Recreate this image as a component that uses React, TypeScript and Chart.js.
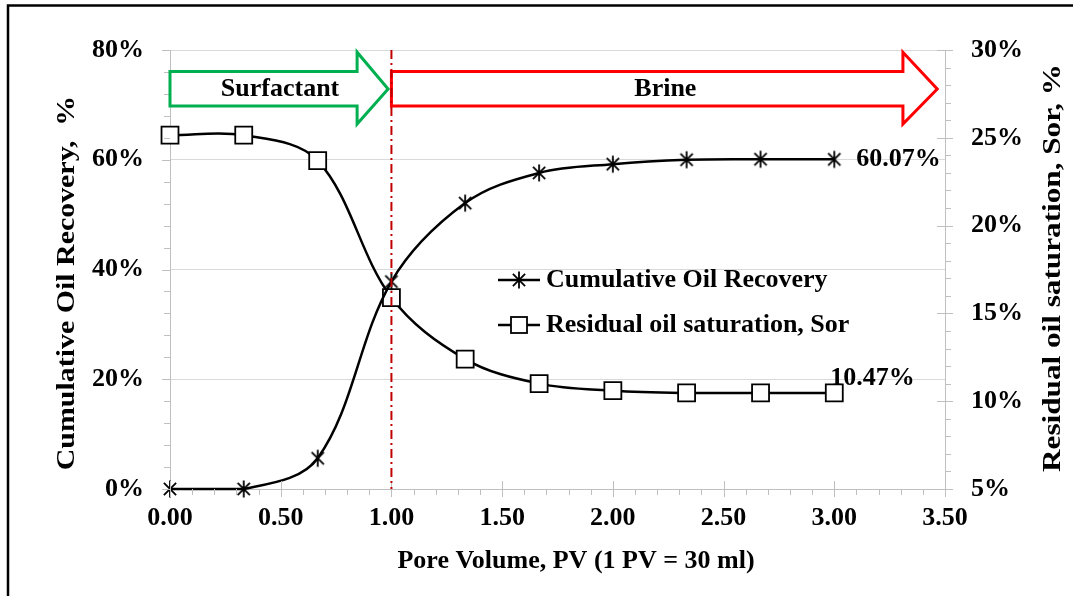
import { useEffect, useRef } from "react";
import { Chart, registerables } from "chart.js";

Chart.register(...registerables);

const PV = [0, 0.333, 0.667, 1.0, 1.333, 1.667, 2.0, 2.333, 2.667, 3.0];
const RECOVERY = [0, 0, 5.6, 37.8, 52.1, 57.6, 59.2, 60.0, 60.1, 60.07];
const SOR = [25.15, 25.15, 23.7, 15.9, 12.4, 11.0, 10.6, 10.47, 10.47, 10.47];
const SERIES_NAMES = ["Cumulative Oil Recovery", "Residual oil saturation, Sor"];
const END_LABELS = ["60.07%", "10.47%"];
const PHASES = ["Surfactant", "Brine"];
const X_TITLE = "Pore Volume, PV (1 PV = 30 ml)";
const Y_TITLE = "Cumulative Oil Recovery,  %";
const Y1_TITLE = "Residual oil saturation, Sor, %";

const FAMILY = '"Liberation Serif", "Times New Roman", serif';
const TICK_SIZE = 26;
const TEXT_SIZE = 26;

function makeStar(): HTMLCanvasElement {
  const c = document.createElement("canvas");
  c.width = 20;
  c.height = 20;
  const g = c.getContext("2d")!;
  g.strokeStyle = "#000";
  g.lineWidth = 1.8;
  const m = 10;
  const r = 8.5;
  const d = r * 0.72;
  g.beginPath();
  g.moveTo(m, m - r);
  g.lineTo(m, m + r);
  g.moveTo(m - d, m - d);
  g.lineTo(m + d, m + d);
  g.moveTo(m + d, m - d);
  g.lineTo(m - d, m + d);
  g.stroke();
  return c;
}

export default function App() {
  const ref = useRef<HTMLCanvasElement>(null);

  useEffect(() => {
    if (!ref.current) return;
    const star = makeStar();

    const annot = {
      id: "annot",
      afterDraw(chart: any) {
        const ctx = chart.ctx as CanvasRenderingContext2D;
        const { left, right, top, bottom } = chart.chartArea;
        const xs = chart.scales.x;
        const ys = chart.scales.y;
        const y1s = chart.scales.y1;
        ctx.save();

        // tick marks
        ctx.strokeStyle = "#BFBFBF";
        ctx.lineWidth = 1;
        ctx.beginPath();
        for (let v = 0; v <= 80; v += 4) {
          const p = Math.round(ys.getPixelForValue(v)) + 0.5;
          const major = v % 20 === 0;
          ctx.moveTo(left - (major ? 8 : 6), p);
          ctx.lineTo(left, p);
        }
        for (let v = 5; v <= 30; v += 1) {
          const p = Math.round(y1s.getPixelForValue(v)) + 0.5;
          const major = v % 5 === 0;
          ctx.moveTo(right - (major ? 8 : 0), p);
          ctx.lineTo(right + (major ? 8 : 6), p);
        }
        for (let i = 0; i <= 35; i++) {
          const p = Math.round(xs.getPixelForValue(i / 10)) + 0.5;
          const major = i % 5 === 0;
          ctx.moveTo(p, bottom - (major ? 8 : 0));
          ctx.lineTo(p, bottom + (major ? 8 : 6));
        }
        ctx.stroke();

        // arrows
        const arrow = (
          x0: number, xh: number, xt: number, color: string, label: string
        ) => {
          const L = xs.getPixelForValue(x0);
          const H = xs.getPixelForValue(xh);
          const T = xs.getPixelForValue(xt);
          const yT = ys.getPixelForValue(76.1);
          const yB = ys.getPixelForValue(69.8);
          const hT = ys.getPixelForValue(79.6);
          const hB = ys.getPixelForValue(66.5);
          const yM = ys.getPixelForValue(72.9);
          ctx.beginPath();
          ctx.moveTo(L, yT);
          ctx.lineTo(H, yT);
          ctx.lineTo(H, hT);
          ctx.lineTo(T, yM);
          ctx.lineTo(H, hB);
          ctx.lineTo(H, yB);
          ctx.lineTo(L, yB);
          ctx.closePath();
          ctx.fillStyle = "#fff";
          ctx.fill();
          ctx.lineWidth = 3;
          ctx.lineJoin = "miter";
          ctx.strokeStyle = color;
          ctx.stroke();
          ctx.fillStyle = "#000";
          ctx.font = `bold ${TEXT_SIZE}px ${FAMILY}`;
          ctx.textAlign = "center";
          ctx.textBaseline = "middle";
          ctx.fillText(label, (L + T) / 2 + 1, yM);
        };
        arrow(0, 0.845, 0.985, "#00B050", PHASES[0]);
        arrow(1.0, 3.31, 3.465, "#FF0000", PHASES[1]);

        // vertical dash-dot line at 1 PV
        const xd = xs.getPixelForValue(1.0);
        ctx.beginPath();
        ctx.setLineDash([9, 4, 2, 4]);
        ctx.strokeStyle = "#C00000";
        ctx.lineWidth = 2;
        ctx.moveTo(xd, top);
        ctx.lineTo(xd, bottom);
        ctx.stroke();
        ctx.setLineDash([]);

        // end labels
        ctx.fillStyle = "#000";
        ctx.font = `bold ${TEXT_SIZE}px ${FAMILY}`;
        ctx.textAlign = "left";
        ctx.textBaseline = "middle";
        const n = PV.length - 1;
        ctx.fillText(
          END_LABELS[0],
          xs.getPixelForValue(PV[n]) + 22,
          ys.getPixelForValue(RECOVERY[n])
        );
        ctx.fillText(
          END_LABELS[1],
          xs.getPixelForValue(PV[n]) - 4,
          y1s.getPixelForValue(SOR[n]) - 15
        );

        // legend
        const lx0 = left + 328;
        const ly = [top + 230, top + 275];
        ctx.strokeStyle = "#000";
        ctx.lineWidth = 2.5;
        ly.forEach((yy, i) => {
          ctx.beginPath();
          ctx.moveTo(lx0, yy);
          ctx.lineTo(lx0 + 42, yy);
          ctx.stroke();
          const cx = lx0 + 21;
          if (i === 0) {
            ctx.drawImage(star, cx - star.width / 2, yy - star.height / 2);
          } else {
            ctx.fillStyle = "#fff";
            ctx.fillRect(cx - 8, yy - 8, 16, 16);
            ctx.lineWidth = 1.8;
            ctx.strokeRect(cx - 8, yy - 8, 16, 16);
            ctx.lineWidth = 2.5;
          }
          ctx.fillStyle = "#000";
          ctx.font = `bold ${TEXT_SIZE}px ${FAMILY}`;
          ctx.textAlign = "left";
          ctx.textBaseline = "middle";
          ctx.fillText(SERIES_NAMES[i], lx0 + 48, yy);
        });

        // axis titles
        ctx.font = `bold ${TEXT_SIZE}px ${FAMILY}`;
        ctx.textAlign = "center";
        ctx.textBaseline = "middle";
        ctx.fillText(X_TITLE, 576, 561);
        ctx.save();
        ctx.translate(67, 283);
        ctx.rotate(-Math.PI / 2);
        ctx.scale(1.15, 1);
        ctx.fillText(Y_TITLE, 0, 0);
        ctx.restore();
        ctx.save();
        ctx.translate(1053, 268);
        ctx.rotate(-Math.PI / 2);
        ctx.scale(1.2, 1);
        ctx.fillText(Y1_TITLE, 0, 0);
        ctx.restore();

        // frame
        ctx.strokeStyle = "#000";
        ctx.lineWidth = 2.5;
        ctx.beginPath();
        ctx.moveTo(8, 600);
        ctx.lineTo(8, 5.5);
        ctx.lineTo(1080, 5.5);
        ctx.stroke();

        ctx.restore();
      },
    };

    const tickFont = { family: FAMILY, size: TICK_SIZE, weight: "bold" as const };

    const chart = new Chart(ref.current, {
      type: "line",
      data: {
        datasets: [
          {
            label: SERIES_NAMES[0],
            data: PV.map((x, i) => ({ x, y: RECOVERY[i] })),
            yAxisID: "y",
            borderColor: "#000",
            borderWidth: 2.5,
            tension: 0.35,
            clip: false as any,
            pointStyle: star as any,
            pointRadius: 9,
            pointBorderColor: "#000",
          },
          {
            label: SERIES_NAMES[1],
            data: PV.map((x, i) => ({ x, y: SOR[i] })),
            yAxisID: "y1",
            borderColor: "#000",
            borderWidth: 2.5,
            tension: 0.35,
            clip: false as any,
            pointStyle: "rect",
            pointRadius: 12,
            pointBackgroundColor: "#fff",
            pointBorderColor: "#000",
            pointBorderWidth: 1.8,
          },
        ],
      },
      options: {
        responsive: false,
        animation: false,
        events: [],
        layout: { padding: { top: 50, left: 0, right: 0, bottom: 0 } },
        plugins: { legend: { display: false }, tooltip: { enabled: false } },
        scales: {
          x: {
            type: "linear",
            min: 0,
            max: 3.5,
            position: "bottom",
            ticks: {
              stepSize: 0.5,
              callback: (v: any) => Number(v).toFixed(2),
              font: tickFont,
              color: "#000",
              padding: 14,
              maxRotation: 0,
              autoSkip: false,
            },
            grid: { drawOnChartArea: false, drawTicks: false },
            border: { color: "#BFBFBF", width: 1 },
            afterFit: (s: any) => {
              s.height = 107;
            },
          },
          y: {
            position: "left",
            min: 0,
            max: 80,
            ticks: {
              stepSize: 20,
              callback: (v: any) => v + "%",
              font: tickFont,
              color: "#000",
              padding: 26,
            },
            grid: { color: "#D9D9D9", drawTicks: false },
            border: { color: "#BFBFBF", width: 1 },
            afterFit: (s: any) => {
              s.width = 170;
            },
          },
          y1: {
            position: "right",
            min: 5,
            max: 30,
            ticks: {
              stepSize: 5,
              callback: (v: any) => v + "%",
              font: tickFont,
              color: "#000",
              padding: 26,
            },
            grid: { drawOnChartArea: false, drawTicks: false },
            border: { color: "#BFBFBF", width: 1 },
            afterFit: (s: any) => {
              s.width = 128;
            },
          },
        },
      },
      plugins: [annot],
    });
    return () => chart.destroy();
  }, []);

  return (
    <div
      style={{
        position: "absolute",
        left: 0,
        top: 0,
        width: 1073,
        height: 596,
        background: "#fff",
      }}
    >
      <canvas ref={ref} width={1073} height={596} style={{ display: "block" }} />
    </div>
  );
}
